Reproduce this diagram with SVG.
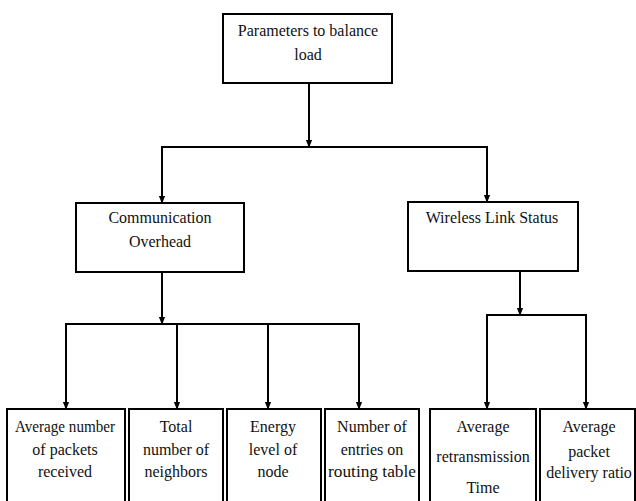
<svg xmlns="http://www.w3.org/2000/svg" width="636" height="501" viewBox="0 0 636 501">
<defs>
<marker id="a" markerWidth="8" markerHeight="10" refX="9" refY="4" orient="auto" markerUnits="userSpaceOnUse" viewBox="0 0 10 8">
<path d="M0,0 L10,4 L0,8 Z" fill="#000"/>
</marker>
<style>
.box{fill:#fff;stroke:#000;stroke-width:2}
.t{font-family:'Liberation Serif','DejaVu Serif',serif;font-size:16px;fill:#111;text-anchor:middle}
.c{fill:none;stroke:#000;stroke-width:2}
</style>
</defs>
<rect width="636" height="501" fill="#fff"/>
<g id="connectors">
<line class="c" x1="309" y1="83" x2="309" y2="147" marker-end="url(#a)"/>
<polyline class="c" points="162,147 487,147 487,202" marker-end="url(#a)"/>
<line class="c" x1="162" y1="146" x2="162" y2="203" marker-end="url(#a)"/>
<line class="c" x1="162" y1="272" x2="162" y2="324" marker-end="url(#a)"/>
<line class="c" x1="65" y1="324" x2="360" y2="324"/>
<line class="c" x1="66" y1="324" x2="66" y2="409" marker-end="url(#a)"/>
<line class="c" x1="177" y1="324" x2="177" y2="409" marker-end="url(#a)"/>
<line class="c" x1="268" y1="324" x2="268" y2="409" marker-end="url(#a)"/>
<line class="c" x1="359" y1="324" x2="359" y2="409" marker-end="url(#a)"/>
<line class="c" x1="520" y1="271" x2="520" y2="315" marker-end="url(#a)"/>
<line class="c" x1="486" y1="315" x2="587" y2="315"/>
<line class="c" x1="487" y1="315" x2="487" y2="409" marker-end="url(#a)"/>
<line class="c" x1="586" y1="315" x2="586" y2="409" marker-end="url(#a)"/>
</g>
<g id="root">
<rect class="box" x="223" y="14" width="169" height="69"/>
<text class="t" x="308" y="36" font-family="Liberation Serif">Parameters to balance</text>
<text class="t" x="308" y="60">load</text>
</g>
<g id="comm">
<rect class="box" x="76" y="203" width="168" height="69"/>
<text class="t" x="160" y="223">Communication</text>
<text class="t" x="160" y="247">Overhead</text>
</g>
<g id="wireless">
<rect class="box" x="408" y="202" width="170" height="69"/>
<text class="t" x="492" y="223">Wireless Link Status</text>
</g>
<g id="avgpackets">
<rect class="box" x="7" y="409" width="118" height="100"/>
<text class="t" x="65" y="432" textLength="100" lengthAdjust="spacingAndGlyphs">Average number</text>
<text class="t" x="65" y="455">of packets</text>
<text class="t" x="65" y="477">received</text>
</g>
<g id="neighbors">
<rect class="box" x="129" y="409" width="94" height="100"/>
<text class="t" x="176" y="432">Total</text>
<text class="t" x="176" y="455">number of</text>
<text class="t" x="176" y="477">neighbors</text>
</g>
<g id="energy">
<rect class="box" x="227" y="409" width="94" height="100"/>
<text class="t" x="273" y="432">Energy</text>
<text class="t" x="273" y="455">level of</text>
<text class="t" x="273" y="477">node</text>
</g>
<g id="entries">
<rect class="box" x="325" y="409" width="94" height="100"/>
<text class="t" x="372" y="432">Number of</text>
<text class="t" x="372" y="455">entries on</text>
<text class="t" x="372" y="477" textLength="88" lengthAdjust="spacingAndGlyphs">routing table</text>
</g>
<g id="retrans">
<rect class="box" x="430" y="409" width="106" height="100"/>
<text class="t" x="483" y="432">Average</text>
<text class="t" x="483" y="462">retransmission</text>
<text class="t" x="483" y="493">Time</text>
</g>
<g id="pdr">
<rect class="box" x="540" y="409" width="95" height="100"/>
<text class="t" x="589" y="432">Average</text>
<text class="t" x="589" y="457">packet</text>
<text class="t" x="589" y="478">delivery ratio</text>
</g>
</svg>
